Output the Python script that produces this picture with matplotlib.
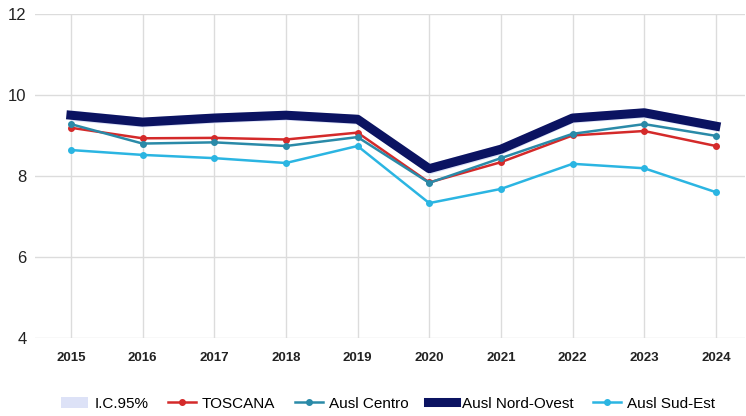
import numpy as np
import matplotlib.pyplot as plt

plt.rcParams['font.family'] = ['Liberation Sans', 'DejaVu Sans']

years = [2015, 2016, 2017, 2018, 2019, 2020, 2021, 2022, 2023, 2024]
toscana = [9.19, 8.93, 8.94, 8.90, 9.07, 7.84, 8.34, 9.00, 9.11, 8.74]
centro = [9.28, 8.80, 8.83, 8.74, 8.96, 7.83, 8.44, 9.04, 9.28, 8.99]
nord_ovest = [9.50, 9.33, 9.43, 9.50, 9.40, 8.18, 8.66, 9.43, 9.56, 9.23]
sud_est = [8.64, 8.52, 8.44, 8.32, 8.74, 7.33, 7.68, 8.30, 8.19, 7.60]
ci_half = [0.13, 0.12, 0.12, 0.12, 0.12, 0.13, 0.13, 0.12, 0.12, 0.12]

fig = plt.figure(figsize=(7.46, 4.16), dpi=100)
ax = fig.add_axes([0.047, 0.1875, 0.952, 0.779])

lo = np.array(nord_ovest) - np.array(ci_half)
hi = np.array(nord_ovest) + np.array(ci_half)
ax.fill_between(years, lo, hi, color='#dde2f7', lw=0, label='I.C.95%', zorder=2)
ax.plot(years, toscana, color='#d42a2a', lw=1.8, marker='o', ms=4, label='TOSCANA', zorder=3)
ax.plot(years, centro, color='#2a8aa8', lw=1.8, marker='o', ms=4, label='Ausl Centro', zorder=3)
ax.plot(years, nord_ovest, color='#0b1361', lw=6.5, solid_joinstyle='round',
        label='Ausl Nord-Ovest', zorder=4)
ax.plot(years, sud_est, color='#2bb5e2', lw=1.8, marker='o', ms=4, label='Ausl Sud-Est', zorder=3)

ax.set_xlim(2014.5, 2024.41)
ax.set_ylim(4, 12)
ax.set_xticks(years)
ax.set_yticks([4, 6, 8, 10, 12])
ax.tick_params(axis='x', length=0, pad=10, labelsize=9.5)
ax.tick_params(axis='y', length=0, pad=6, labelsize=12)
for lab in ax.get_xticklabels():
    lab.set_fontweight('bold')
    lab.set_color('#222222')
for lab in ax.get_yticklabels():
    lab.set_color('#222222')
ax.grid(True, color='#dcdcdc', lw=1)
ax.set_axisbelow(True)
for s in ax.spines.values():
    s.set_visible(False)

fig.legend(loc='center', bbox_to_anchor=(0.52, 0.03), ncol=5, frameon=False,
           fontsize=11, handlelength=1.8, handletextpad=0.4, columnspacing=1.3)

fig.savefig('out.png', dpi=100)
